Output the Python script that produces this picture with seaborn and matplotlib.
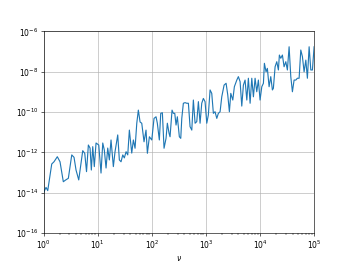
import matplotlib
matplotlib.use("Agg")
import matplotlib.pyplot as plt
import numpy as np
import seaborn as sns

# exponents (log10 of nu, log10 of value)
nu_exp = [0.0, 0.044, 0.076, 0.150, 0.192, 0.253, 0.303, 0.364, 0.409, 0.457,
          0.520, 0.562, 0.599, 0.649, 0.686, 0.723, 0.760, 0.793, 0.827, 0.858,
          0.882, 0.908, 0.937, 0.969, 1.019, 1.061, 1.093, 1.122, 1.154, 1.185,
          1.215, 1.246, 1.289, 1.320, 1.370, 1.400, 1.431, 1.463, 1.492, 1.524,
          1.555, 1.585, 1.629, 1.659, 1.690, 1.722, 1.751, 1.783, 1.814, 1.856,
          1.893, 1.918, 1.955, 1.999, 2.041, 2.078, 2.102, 2.139, 2.165, 2.195,
          2.226, 2.263, 2.287, 2.319, 2.337, 2.374, 2.398, 2.424, 2.448, 2.472,
          2.509, 2.535, 2.554, 2.583, 2.615, 2.646, 2.676, 2.707, 2.739, 2.768,
          2.800, 2.831, 2.861, 2.892, 2.923, 2.953, 2.984, 3.016, 3.045, 3.077,
          3.108, 3.138, 3.169, 3.201, 3.230, 3.262, 3.293, 3.336, 3.373, 3.404,
          3.434, 3.460, 3.497, 3.526, 3.571, 3.600, 3.632, 3.663, 3.693, 3.724,
          3.756, 3.785, 3.817, 3.848, 3.878, 3.909, 3.940, 3.970, 4.001, 4.033,
          4.063, 4.081, 4.112, 4.136, 4.168, 4.199, 4.229, 4.247, 4.279, 4.310,
          4.340, 4.358, 4.384, 4.414, 4.445, 4.477, 4.506, 4.538, 4.569, 4.599,
          4.630, 4.662, 4.691, 4.723, 4.754, 4.784, 4.815, 4.847, 4.876, 4.908,
          4.939, 4.969, 5.0]
val_exp = [-13.99, -13.73, -13.89, -12.57, -12.46, -12.21, -12.46, -13.45, -13.36, -13.28,
           -12.12, -12.24, -12.87, -13.36, -12.62, -11.91, -12.04, -12.95, -11.63, -11.78,
           -12.87, -11.71, -12.70, -11.53, -11.63, -13.02, -11.53, -11.88, -12.77, -11.78,
           -12.37, -11.38, -12.70, -11.96, -11.13, -12.37, -12.46, -12.12, -12.27, -11.96,
           -12.12, -10.89, -12.03, -11.38, -11.79, -10.55, -9.90, -10.49, -10.55, -11.47,
           -10.89, -12.04, -11.22, -11.38, -10.31, -10.23, -10.55, -11.38, -10.06, -10.03,
           -11.79, -11.30, -10.55, -11.05, -11.22, -9.90, -10.06, -10.06, -10.64, -10.23,
           -11.22, -11.30, -10.31, -9.56, -9.53, -9.56, -9.56, -10.72, -10.89, -9.40,
           -10.55, -10.47, -9.48, -10.55, -9.56, -9.32, -9.48, -10.55, -10.14, -8.90,
           -9.07, -10.06, -9.98, -10.31, -10.06, -9.98, -9.24, -8.66, -8.57, -9.15,
           -9.98, -9.07, -9.40, -8.74, -8.41, -8.24, -8.49, -9.70, -8.66, -8.41,
           -9.40, -8.32, -9.56, -8.32, -9.24, -8.32, -8.99, -8.41, -9.40, -8.74,
           -8.57, -7.58, -8.00, -7.83, -8.74, -8.24, -8.90, -8.82, -7.75, -7.50,
           -7.91, -7.17, -7.33, -7.17, -7.75, -7.50, -7.91, -6.76, -8.24, -8.99,
           -8.41, -8.41, -8.32, -8.32, -6.92, -7.25, -8.00, -7.42, -8.32, -6.76,
           -7.91, -7.91, -6.76]

nu = 10.0 ** np.array(nu_exp)
val = 10.0 ** np.array(val_exp)

fig, ax = plt.subplots(figsize=(349 / 54.6, 262 / 54.6), dpi=54.6)
sns.lineplot(x=nu, y=val, ax=ax, color="#1f77b4", linewidth=1.5)
ax.set_xscale("log")
ax.set_yscale("log")
ax.set_xlim(1, 1e5)
ax.set_ylim(1e-16, 1e-6)
ax.grid(True)
ax.set_xlabel(r"$\nu$")

fig.savefig("out.png", dpi=54.6)
